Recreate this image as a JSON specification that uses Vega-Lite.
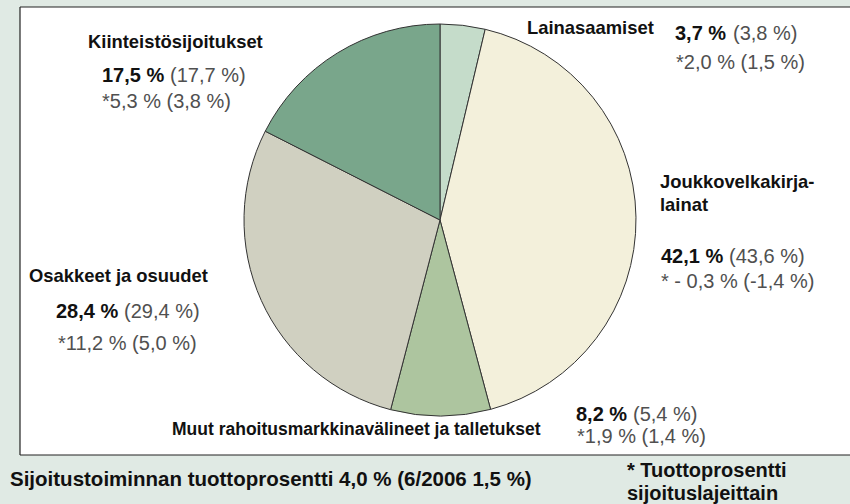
{
  "$schema": "https://vega.github.io/schema/vega-lite/v6.json",
  "width": 830,
  "height": 448,
  "autosize": {"type": "none"},
  "padding": {"left": 20, "top": 7, "right": 0, "bottom": 49},
  "background": "#e0eae4",
  "config": {
    "view": {"stroke": null, "fill": "#ffffff"},
    "axis": {"disable": true},
    "text": {"font": "Liberation Sans", "baseline": "alphabetic", "align": "left"}
  },
  "datasets": {
    "slices": [
      {"name": "Lainasaamiset", "label": "Lainasaamiset", "share": 3.7, "prev": 3.8, "ret": 2.0, "retPrev": 1.5, "shareText": "3,7 %", "prevText": "(3,8 %)", "retText": "*2,0 % (1,5 %)", "order": 1},
      {"name": "Joukkovelkakirjalainat", "label": ["Joukkovelkakirja-", "lainat"], "share": 42.1, "prev": 43.6, "ret": -0.3, "retPrev": -1.4, "shareText": "42,1 %", "prevText": "(43,6 %)", "retText": "* - 0,3 % (-1,4 %)", "order": 2},
      {"name": "Muut rahoitusmarkkinavälineet ja talletukset", "label": "Muut rahoitusmarkkinavälineet ja talletukset", "share": 8.2, "prev": 5.4, "ret": 1.9, "retPrev": 1.4, "shareText": "8,2 %", "prevText": "(5,4 %)", "retText": "*1,9 % (1,4 %)", "order": 3},
      {"name": "Osakkeet ja osuudet", "label": "Osakkeet ja osuudet", "share": 28.4, "prev": 29.4, "ret": 11.2, "retPrev": 5.0, "shareText": "28,4 %", "prevText": "(29,4 %)", "retText": "*11,2 % (5,0 %)", "order": 4},
      {"name": "Kiinteistösijoitukset", "label": "Kiinteistösijoitukset", "share": 17.5, "prev": 17.7, "ret": 5.3, "retPrev": 3.8, "shareText": "17,5 %", "prevText": "(17,7 %)", "retText": "*5,3 % (3,8 %)", "order": 5}
    ],
    "notes": [
      {"id": "total", "note": "Sijoitustoiminnan tuottoprosentti 4,0 % (6/2006 1,5 %)"},
      {"id": "footnote", "note": ["* Tuottoprosentti", "sijoituslajeittain"]}
    ],
    "frame": [{"edge": "box"}]
  },
  "data": {"name": "slices"},
  "layer": [
    {
      "mark": {"type": "arc", "radius": 196, "stroke": "#333333", "strokeWidth": 1},
      "encoding": {
        "theta": {"field": "share", "type": "quantitative", "stack": true},
        "order": {"field": "order", "type": "quantitative"},
        "color": {"field": "name", "type": "nominal", "legend": null,
          "scale": {"domain": ["Lainasaamiset", "Joukkovelkakirjalainat", "Muut rahoitusmarkkinavälineet ja talletukset", "Osakkeet ja osuudet", "Kiinteistösijoitukset"],
                    "range": ["#c5dcca", "#f3f0db", "#adc59f", "#d0d0c1", "#79a68b"]}},
        "x": {"datum": 420, "type": "quantitative", "scale": {"domain": [0, 830], "nice": false, "zero": false}},
        "y": {"datum": 213, "type": "quantitative", "scale": {"domain": [0, 448], "nice": false, "zero": false, "reverse": true}}
      }
    },
    {
      "transform": [{"filter": {"field": "name", "equal": "Lainasaamiset"}}],
      "layer": [
        {"mark": {"type": "text", "fontSize": 18.4, "fontWeight": "bold", "color": "#111111"},
         "encoding": {"text": {"field": "label"}, "x": {"datum": 507, "type": "quantitative"}, "y": {"datum": 27, "type": "quantitative"}}},
        {"mark": {"type": "text", "fontSize": 20, "fontWeight": "bold", "color": "#111111"},
         "encoding": {"text": {"field": "shareText"}, "x": {"datum": 655, "type": "quantitative"}, "y": {"datum": 33, "type": "quantitative"}}},
        {"mark": {"type": "text", "fontSize": 20, "color": "#505050"},
         "encoding": {"text": {"field": "prevText"}, "x": {"datum": 713, "type": "quantitative"}, "y": {"datum": 33, "type": "quantitative"}}},
        {"mark": {"type": "text", "fontSize": 20, "color": "#505050"},
         "encoding": {"text": {"field": "retText"}, "x": {"datum": 656, "type": "quantitative"}, "y": {"datum": 62, "type": "quantitative"}}}
      ]
    },
    {
      "transform": [{"filter": {"field": "name", "equal": "Joukkovelkakirjalainat"}}],
      "layer": [
        {"mark": {"type": "text", "fontSize": 18.4, "fontWeight": "bold", "color": "#111111", "lineHeight": 23},
         "encoding": {"text": {"field": "label"}, "x": {"datum": 640, "type": "quantitative"}, "y": {"datum": 181, "type": "quantitative"}}},
        {"mark": {"type": "text", "fontSize": 20, "fontWeight": "bold", "color": "#111111"},
         "encoding": {"text": {"field": "shareText"}, "x": {"datum": 641, "type": "quantitative"}, "y": {"datum": 256, "type": "quantitative"}}},
        {"mark": {"type": "text", "fontSize": 20, "color": "#505050"},
         "encoding": {"text": {"field": "prevText"}, "x": {"datum": 709, "type": "quantitative"}, "y": {"datum": 256, "type": "quantitative"}}},
        {"mark": {"type": "text", "fontSize": 20, "color": "#505050"},
         "encoding": {"text": {"field": "retText"}, "x": {"datum": 641, "type": "quantitative"}, "y": {"datum": 281, "type": "quantitative"}}}
      ]
    },
    {
      "transform": [{"filter": {"field": "name", "equal": "Muut rahoitusmarkkinavälineet ja talletukset"}}],
      "layer": [
        {"mark": {"type": "text", "fontSize": 17.5, "fontWeight": "bold", "color": "#111111"},
         "encoding": {"text": {"field": "label"}, "x": {"datum": 152, "type": "quantitative"}, "y": {"datum": 428, "type": "quantitative"}}},
        {"mark": {"type": "text", "fontSize": 20, "fontWeight": "bold", "color": "#111111"},
         "encoding": {"text": {"field": "shareText"}, "x": {"datum": 556, "type": "quantitative"}, "y": {"datum": 414, "type": "quantitative"}}},
        {"mark": {"type": "text", "fontSize": 20, "color": "#505050"},
         "encoding": {"text": {"field": "prevText"}, "x": {"datum": 613, "type": "quantitative"}, "y": {"datum": 414, "type": "quantitative"}}},
        {"mark": {"type": "text", "fontSize": 20, "color": "#505050"},
         "encoding": {"text": {"field": "retText"}, "x": {"datum": 557, "type": "quantitative"}, "y": {"datum": 436, "type": "quantitative"}}}
      ]
    },
    {
      "transform": [{"filter": {"field": "name", "equal": "Osakkeet ja osuudet"}}],
      "layer": [
        {"mark": {"type": "text", "fontSize": 18.4, "fontWeight": "bold", "color": "#111111"},
         "encoding": {"text": {"field": "label"}, "x": {"datum": 9, "type": "quantitative"}, "y": {"datum": 275, "type": "quantitative"}}},
        {"mark": {"type": "text", "fontSize": 20, "fontWeight": "bold", "color": "#111111"},
         "encoding": {"text": {"field": "shareText"}, "x": {"datum": 36, "type": "quantitative"}, "y": {"datum": 311, "type": "quantitative"}}},
        {"mark": {"type": "text", "fontSize": 20, "color": "#505050"},
         "encoding": {"text": {"field": "prevText"}, "x": {"datum": 104, "type": "quantitative"}, "y": {"datum": 311, "type": "quantitative"}}},
        {"mark": {"type": "text", "fontSize": 20, "color": "#505050"},
         "encoding": {"text": {"field": "retText"}, "x": {"datum": 38, "type": "quantitative"}, "y": {"datum": 343, "type": "quantitative"}}}
      ]
    },
    {
      "transform": [{"filter": {"field": "name", "equal": "Kiinteistösijoitukset"}}],
      "layer": [
        {"mark": {"type": "text", "fontSize": 18.4, "fontWeight": "bold", "color": "#111111"},
         "encoding": {"text": {"field": "label"}, "x": {"datum": 68, "type": "quantitative"}, "y": {"datum": 41, "type": "quantitative"}}},
        {"mark": {"type": "text", "fontSize": 20, "fontWeight": "bold", "color": "#111111"},
         "encoding": {"text": {"field": "shareText"}, "x": {"datum": 82, "type": "quantitative"}, "y": {"datum": 75, "type": "quantitative"}}},
        {"mark": {"type": "text", "fontSize": 20, "color": "#505050"},
         "encoding": {"text": {"field": "prevText"}, "x": {"datum": 150, "type": "quantitative"}, "y": {"datum": 75, "type": "quantitative"}}},
        {"mark": {"type": "text", "fontSize": 20, "color": "#505050"},
         "encoding": {"text": {"field": "retText"}, "x": {"datum": 82, "type": "quantitative"}, "y": {"datum": 101, "type": "quantitative"}}}
      ]
    },
    {
      "data": {"name": "notes"},
      "transform": [{"filter": {"field": "id", "equal": "total"}}],
      "mark": {"type": "text", "fontSize": 20.5, "fontWeight": "bold", "color": "#111111"},
      "encoding": {"text": {"field": "note"}, "x": {"datum": -10, "type": "quantitative"}, "y": {"datum": 479, "type": "quantitative"}}
    },
    {
      "data": {"name": "notes"},
      "transform": [{"filter": {"field": "id", "equal": "footnote"}}],
      "mark": {"type": "text", "fontSize": 20, "fontWeight": "bold", "color": "#111111", "lineHeight": 23},
      "encoding": {"text": {"field": "note"}, "x": {"datum": 607, "type": "quantitative"}, "y": {"datum": 470, "type": "quantitative"}}
    },
    {
      "data": {"name": "frame"},
      "mark": {"type": "rule", "color": "#222222", "strokeWidth": 1.2},
      "encoding": {"y": {"datum": 0, "type": "quantitative"}}
    },
    {
      "data": {"name": "frame"},
      "mark": {"type": "rule", "color": "#222222", "strokeWidth": 1.2},
      "encoding": {"y": {"datum": 448, "type": "quantitative"}}
    },
    {
      "data": {"name": "frame"},
      "mark": {"type": "rule", "color": "#222222", "strokeWidth": 1.2},
      "encoding": {"x": {"datum": 0, "type": "quantitative"}}
    }
  ]
}
